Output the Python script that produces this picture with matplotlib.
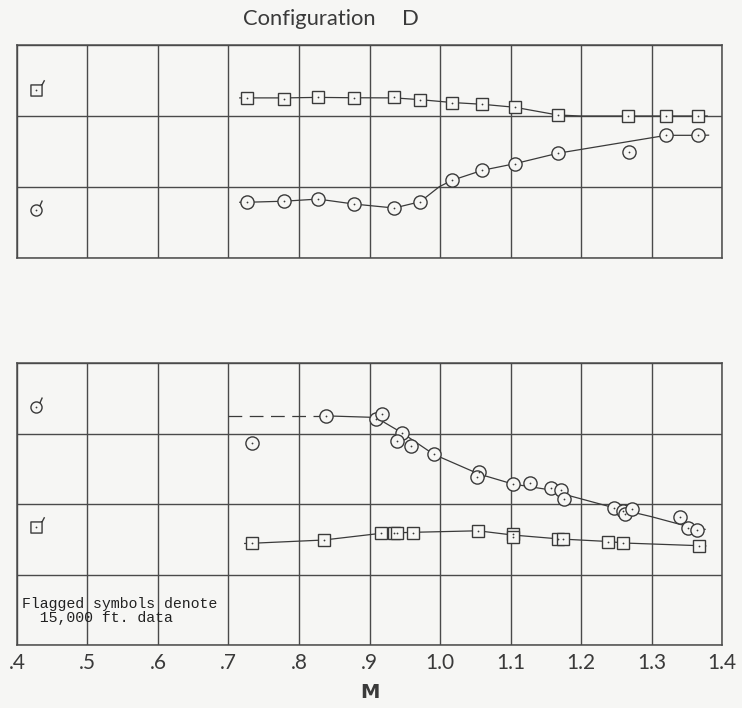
import matplotlib
matplotlib.use("Agg")
import matplotlib.pyplot as plt
import numpy as np
from matplotlib.path import Path

# ---------------- data ----------------
# Top panel (grid units, 3 rows)
top_sq_x = [0.726, 0.779, 0.827, 0.878, 0.935, 0.972, 1.017, 1.060, 1.106, 1.167, 1.267, 1.321, 1.366]
top_sq_y = [2.258, 2.239, 2.272, 2.254, 2.263, 2.230, 2.187, 2.165, 2.123, 2.014, 2.000, 2.000, 2.000]
top_sq_fair_x = [0.716, 0.726, 0.779, 0.827, 0.878, 0.935, 0.972, 1.017, 1.060, 1.106, 1.167, 1.200, 1.267, 1.321, 1.366, 1.379]
top_sq_fair_y = [2.255, 2.255, 2.255, 2.262, 2.257, 2.255, 2.230, 2.190, 2.165, 2.123, 2.014, 2.000, 2.000, 2.000, 2.000, 2.000]

top_ci_x = [0.726, 0.779, 0.827, 0.878, 0.935, 0.972, 1.017, 1.060, 1.106, 1.167, 1.268, 1.321, 1.366]
top_ci_y = [0.785, 0.800, 0.835, 0.760, 0.704, 0.793, 1.094, 1.235, 1.328, 1.475, 1.497, 1.728, 1.728]
top_ci_fair_x = [0.716, 0.726, 0.779, 0.827, 0.878, 0.935, 0.972, 0.999, 1.017, 1.060, 1.106, 1.167, 1.321, 1.366, 1.381]
top_ci_fair_y = [0.785, 0.785, 0.800, 0.830, 0.760, 0.704, 0.793, 1.004, 1.094, 1.235, 1.328, 1.475, 1.728, 1.728, 1.730]

# Bottom panel (grid units, 4 rows)
bot_ci_x = [0.733, 0.838, 0.909, 0.918, 0.946, 0.939, 0.959, 0.991, 1.055, 1.052, 1.103, 1.127,
            1.157, 1.171, 1.176, 1.247, 1.260, 1.262, 1.273, 1.340, 1.352, 1.365]
bot_ci_y = [2.870, 3.248, 3.206, 3.277, 3.011, 2.898, 2.823, 2.705, 2.458, 2.387, 2.279, 2.302,
            2.223, 2.194, 2.067, 1.946, 1.901, 1.858, 1.933, 1.811, 1.664, 1.635]
bot_ci_dash_x = [0.700, 0.830]
bot_ci_dash_y = [3.252, 3.252]
bot_ci_fair_x = [0.830, 0.838, 0.909, 0.946, 0.991, 1.055, 1.103, 1.150, 1.176, 1.247, 1.300, 1.352, 1.376]
bot_ci_fair_y = [3.252, 3.250, 3.228, 3.010, 2.705, 2.426, 2.284, 2.210, 2.138, 1.946, 1.820, 1.680, 1.640]

bot_sq_x = [0.733, 0.835, 0.917, 0.935, 0.939, 0.961, 1.054, 1.103, 1.104, 1.168, 1.174, 1.239, 1.260, 1.367]
bot_sq_y = [1.443, 1.489, 1.593, 1.589, 1.589, 1.589, 1.621, 1.570, 1.536, 1.504, 1.504, 1.468, 1.447, 1.409]
bot_sq_fair_x = [0.723, 0.733, 0.835, 0.917, 0.960, 1.054, 1.103, 1.170, 1.239, 1.260, 1.367, 1.377]
bot_sq_fair_y = [1.440, 1.443, 1.489, 1.585, 1.598, 1.620, 1.560, 1.504, 1.468, 1.447, 1.409, 1.405]

x_ticks = [0.4, 0.5, 0.6, 0.7, 0.8, 0.9, 1.0, 1.1, 1.2, 1.3, 1.4]
x_tick_labels = [".4", ".5", ".6", ".7", ".8", ".9", "1.0", "1.1", "1.2", "1.3", "1.4"]
title_word = "Configuration"
title_letter = "D"
xlabel_text = "M"
note_text = "Flagged symbols denote\n  15,000 ft. data"

# ---------------- style ----------------
BG = "#f6f6f4"
INK = "#3a3a3a"
GRID = "#4a4a4a"
SANS = ["Lato", "DejaVu Sans"]

fig = plt.figure(figsize=(7.42, 7.08), dpi=100, facecolor=BG)

ax_top = fig.add_axes([17/742, 1 - 258/708, 705/742, 213/708], facecolor=BG)
ax_bot = fig.add_axes([17/742, 1 - 645/708, 705/742, 282/708], facecolor=BG)


def setup(ax, nrows):
    ax.set_xlim(0.4, 1.4)
    ax.set_ylim(0, nrows)
    ax.set_xticks(x_ticks)
    ax.set_yticks(np.arange(0, nrows + 1))
    ax.grid(True, color=GRID, lw=1.0)
    ax.set_axisbelow(True)
    ax.tick_params(length=0, labelleft=False)
    for s in ax.spines.values():
        s.set_color(GRID)
        s.set_linewidth(1.1)


setup(ax_top, 3)
setup(ax_bot, 4)
ax_top.tick_params(labelbottom=False)
ax_bot.set_xticklabels(x_tick_labels, fontsize=15, color=INK, family=SANS)
ax_bot.tick_params(axis="x", pad=6)

LW = 0.9
ms_c = 9.5
ms_s = 8.0


def pts(ax, x, y, marker, ms):
    ax.plot(x, y, ls="none", marker=marker, ms=ms, mfc=BG, mec=INK, mew=1.0, zorder=4)
    ax.plot(x, y, ls="none", marker="o", ms=1.3, mfc=INK, mec=INK, mew=0, zorder=5)


# top panel
ax_top.plot(top_sq_fair_x, top_sq_fair_y, color=INK, lw=LW, zorder=3)
pts(ax_top, top_sq_x, top_sq_y, "s", ms_s)
ax_top.plot(top_ci_fair_x, top_ci_fair_y, color=INK, lw=LW, zorder=3)
pts(ax_top, top_ci_x, top_ci_y, "o", ms_c)

# bottom panel
ax_bot.plot(bot_ci_dash_x, bot_ci_dash_y, color=INK, lw=LW, ls=(0, (11, 6)), zorder=3)
ax_bot.plot(bot_ci_fair_x, bot_ci_fair_y, color=INK, lw=LW, zorder=3)
pts(ax_bot, bot_ci_x, bot_ci_y, "o", ms_c)
ax_bot.plot(bot_sq_fair_x, bot_sq_fair_y, color=INK, lw=LW, zorder=3)
pts(ax_bot, bot_sq_x, bot_sq_y, "s", ms_s)

# flagged legend symbols
circ = Path.unit_circle()
flag_c = Path([(0.6, 0.8), (1.05, 1.8)], [Path.MOVETO, Path.LINETO])
flag_circle = Path.make_compound_path(circ, flag_c)
sq = Path([(-1, -1), (1, -1), (1, 1), (-1, 1), (-1, -1)],
          [Path.MOVETO, Path.LINETO, Path.LINETO, Path.LINETO, Path.CLOSEPOLY])
flag_s = Path([(1.0, 1.0), (1.45, 1.85)], [Path.MOVETO, Path.LINETO])
flag_square = Path.make_compound_path(sq, flag_s)


def flagged(ax, xa, ya, path, ms):
    ax.plot([xa], [ya], transform=ax.transAxes, ls="none", marker=path, ms=ms,
            mfc="none", mec=INK, mew=1.0, zorder=4)
    ax.plot([xa], [ya], transform=ax.transAxes, ls="none", marker="o", ms=1.3,
            mfc=INK, mec=INK, mew=0, zorder=5)


flagged(ax_top, 19/705, (258 - 90)/213, flag_square, 8.0 * 1.85)
flagged(ax_top, 19/705, (258 - 210)/213, flag_circle, 8.0 * 1.8)
flagged(ax_bot, 19/705, (645 - 407)/282, flag_circle, 8.0 * 1.8)
flagged(ax_bot, 19/705, (645 - 527)/282, flag_square, 8.0 * 1.85)

# texts
fig.text(243/742, 1 - 19/708, title_word, fontsize=15.8, color=INK, ha="left", va="center",
         family=SANS)
fig.text(402/742, 1 - 19/708, title_letter, fontsize=15.8, color=INK, ha="left", va="center",
         family=SANS)
fig.text(370/742, 1 - 693/708, xlabel_text, fontsize=14, color=INK, ha="center", va="center",
         family="DejaVu Sans", fontweight="bold")
ax_bot.text(5/705, (645 - 611)/282, note_text, transform=ax_bot.transAxes, fontsize=10.7,
            family="Liberation Mono", color="#222222", ha="left", va="center", linespacing=0.95)

fig.savefig("out.png", dpi=100, facecolor=BG)
